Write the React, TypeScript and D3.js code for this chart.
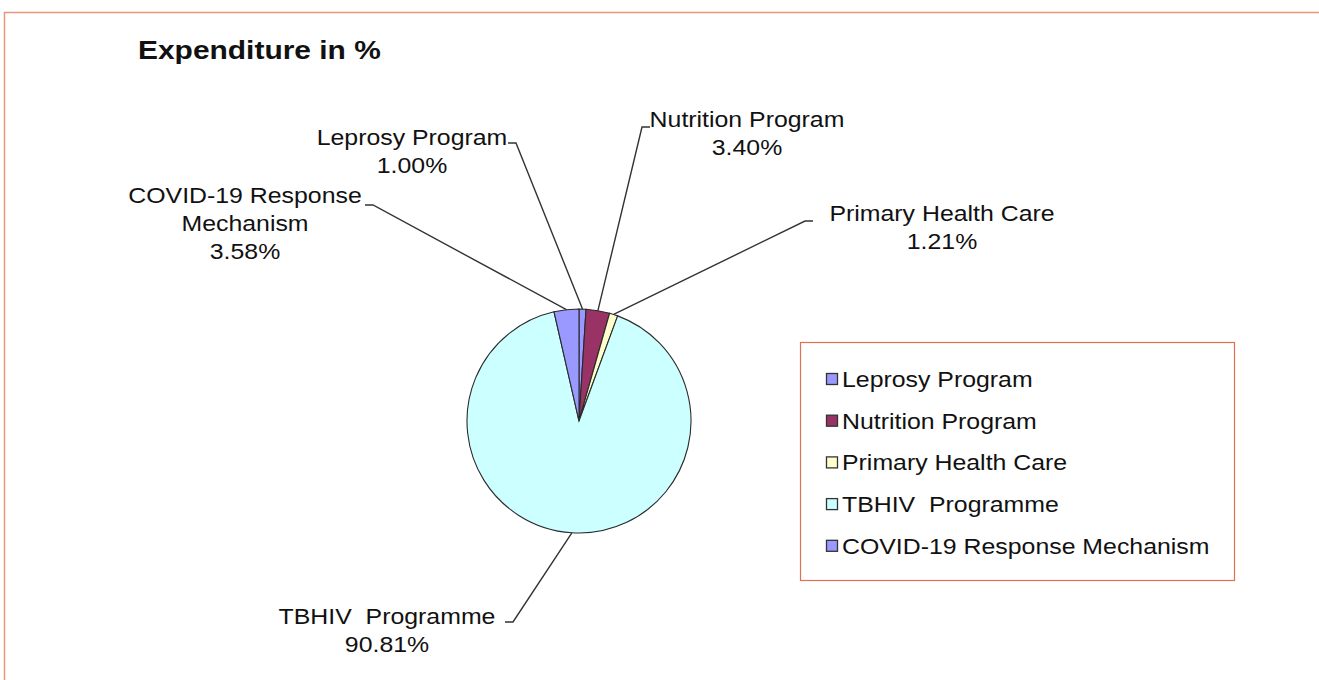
import React from 'react';
import * as d3 from 'd3';

const categories = ['Leprosy Program', 'Nutrition Program', 'Primary Health Care', 'TBHIV  Programme', 'COVID-19 Response Mechanism'];
const shares = [1.0, 3.4, 1.21, 90.81, 3.58];
const colors = ['#9999ff', '#993366', '#ffffcc', '#ccffff', '#9999ff'];
// how each data label is broken into lines
const labelLines = [['Leprosy Program'], ['Nutrition Program'], ['Primary Health Care'], ['TBHIV  Programme'], ['COVID-19 Response', 'Mechanism']];

const W = 1319;
const H = 680;
const cx = 579;
const cy = 421;
const r = 112;
const FONT = 'Arial, "Liberation Sans", sans-serif';
const SX = 1.13; // the source text is a bit wider than Arial

// label placement: text centre, first baseline, end of the leader tick
const labelPos = [
  { x: 412, y: 145, tx: 508, ty: 143, dir: 1 },
  { x: 747, y: 127, tx: 650, ty: 127, dir: -1 },
  { x: 942, y: 221, tx: 813, ty: 221, dir: -1 },
  { x: 387, y: 624, tx: 505, ty: 622, dir: 1 },
  { x: 245, y: 203, tx: 365, ty: 205, dir: 1 },
];

function Txt({ x, y, size = 22, weight = 'normal', anchor = 'middle', children }: any) {
  return (
    <text
      transform={`translate(${x},${y}) scale(${SX},1)`}
      fontFamily={FONT}
      fontSize={size}
      fontWeight={weight}
      textAnchor={anchor}
      fill="#111"
      style={{ whiteSpace: 'pre' }}
    >
      {children}
    </text>
  );
}

export default function App() {
  const pie = d3.pie<number>().sort(null).value(d => d);
  const arcs = pie(shares);
  const arc = d3.arc<d3.PieArcDatum<number>>().innerRadius(0).outerRadius(r);
  const edge = d3.arc<d3.PieArcDatum<number>>().innerRadius(r).outerRadius(r);

  return (
    <svg width={W} height={H} style={{ position: 'absolute', left: 0, top: 0 }}>
      <rect width={W} height={H} fill="#fff" />
      <path d={`M4.5,${H} V12.5 H${W}`} fill="none" stroke="#e9967a" strokeWidth={1.5} />

      <Txt x={138} y={59} size={26.5} weight="bold" anchor="start">Expenditure in %</Txt>

      <g transform={`translate(${cx},${cy})`}>
        {arcs.map((a, i) => (
          <path key={i} d={arc(a) || ''} fill={colors[i]} stroke="#2a2a2a" strokeWidth={1.1} />
        ))}
      </g>

      {arcs.map((a, i) => {
        const [ex, ey] = edge.centroid(a);
        const p = labelPos[i];
        const lines = labelLines[i];
        return (
          <g key={i}>
            <path
              d={`M${p.tx},${p.ty} H${p.tx + p.dir * 8} L${cx + ex},${cy + ey}`}
              fill="none"
              stroke="#333"
              strokeWidth={1.4}
            />
            {lines.map((l, j) => (
              <Txt key={j} x={p.x} y={p.y + j * 28}>{l}</Txt>
            ))}
            <Txt x={p.x} y={p.y + lines.length * 28}>{d3.format('.2f')(a.data)}%</Txt>
          </g>
        );
      })}

      <rect x={800.5} y={342.5} width={434} height={238} fill="#fff" stroke="#e0704f" strokeWidth={1.2} />
      {categories.map((c, i) => {
        const y = 387 + i * 41.7;
        return (
          <g key={i}>
            <rect x={826.5} y={y - 13.5} width={11} height={11} fill={colors[i]} stroke="#333" strokeWidth={1.3} />
            <Txt x={842} y={y} anchor="start">{c}</Txt>
          </g>
        );
      })}
    </svg>
  );
}
